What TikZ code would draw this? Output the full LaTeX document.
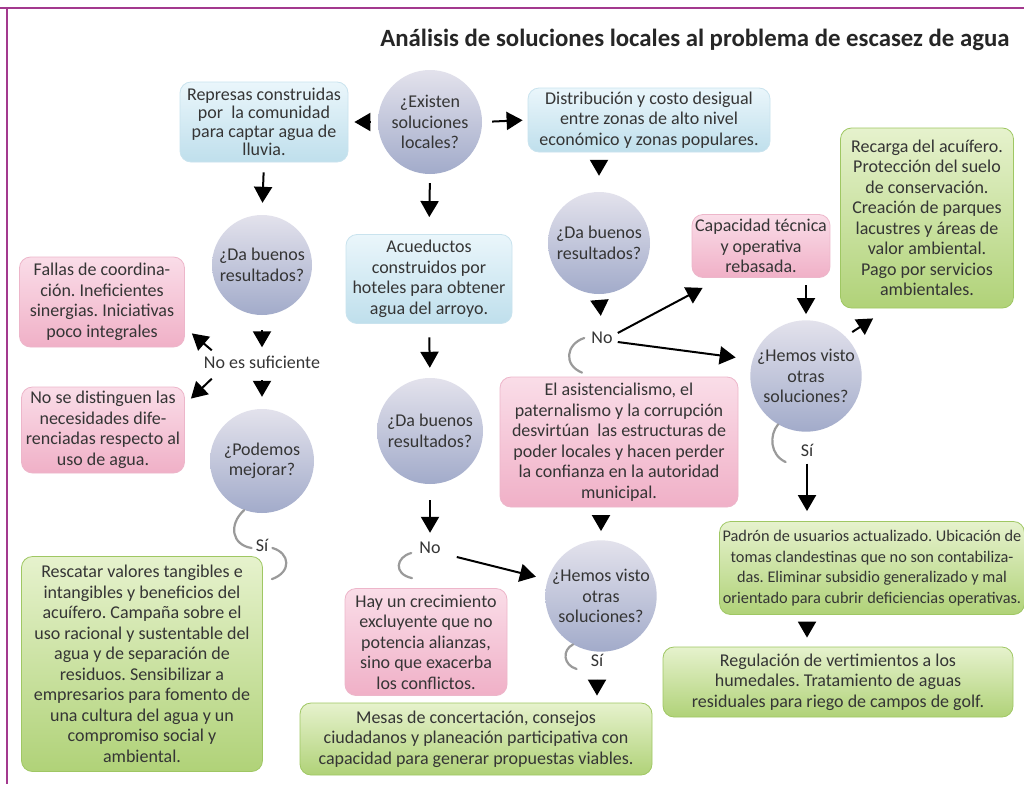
\documentclass[tikz,border=0pt]{standalone}
\usepackage{fontspec}
\setmainfont{Carlito}
\usetikzlibrary{arrows.meta,calc}
\frenchspacing

\definecolor{ink}{HTML}{353535}
\definecolor{frame}{HTML}{A3398E}
\definecolor{ballT}{HTML}{E3E2EC}
\definecolor{ballB}{HTML}{A2ABCA}
\definecolor{blueT}{HTML}{EAF6FB}
\definecolor{blueB}{HTML}{BFDFEC}
\definecolor{blueE}{HTML}{C9E3EE}
\definecolor{pinkT}{HTML}{FADDE8}
\definecolor{pinkB}{HTML}{F0B0C7}
\definecolor{pinkE}{HTML}{EDB6CA}
\definecolor{greenT}{HTML}{E6F2CD}
\definecolor{greenB}{HTML}{B0D278}
\definecolor{greenE}{HTML}{9FC763}
\definecolor{swooshC}{HTML}{9A9A9A}

\tikzset{
  txt/.style={text=ink, font=\fontsize{18}{20.5}\selectfont, align=center},
  ball/.style={txt, circle, inner sep=0pt, minimum size=#1,
    top color=ballT, bottom color=ballB},
  boxbase/.style={txt, rectangle, rounded corners=11pt, inner sep=3pt, line width=0.8pt},
  bluebox/.style={boxbase, top color=blueT, bottom color=blueB, draw=blueE},
  pinkbox/.style={boxbase, top color=pinkT, bottom color=pinkB, draw=pinkE},
  greenbox/.style={boxbase, top color=greenT, bottom color=greenB, draw=greenE},
  lbl/.style={txt, inner sep=2pt, text height=10pt, text depth=3pt},
  arr/.style={draw=black, line width=2pt, -{Triangle[length=16pt,width=18pt]}},
  swoosh/.style={draw=swooshC, line width=2.2pt, line cap=round},
}

\begin{document}
\begin{tikzpicture}[x=1pt,y=-1pt]
\useasboundingbox (0,0) rectangle (1024,784);
\fill[white] (0,0) rectangle (1024,784);

% frame lines along the top and the left side
\draw[frame, line width=2pt] (0,8) -- (1024,8);
\draw[frame, line width=2pt] (7,8) -- (7,784);

% title
\node[text=black!85, font=\fontsize{24.8}{28}\selectfont\bfseries, anchor=east] (title) at (1013,40)
  {Análisis de soluciones locales al problema de escasez de agua};

% top row
\node[ball=104pt] (exist) at (430,122) {¿Existen\\soluciones\\locales?};
\node[bluebox, minimum width=168pt, minimum height=80pt,
      font=\fontsize{18}{18.5}\selectfont] (represas) at (264,122)
  {Represas construidas\\por\ \ la comunidad\\para captar agua de\\lluvia.};
\node[bluebox, minimum width=242pt, minimum height=64pt] (distrib) at (649,120)
  {Distribución y costo desigual\\entre zonas de alto nivel\\económico y zonas populares.};

% left branch
\node[ball=100pt] (db1) at (262,265) {¿Da buenos\\resultados?};
\node[pinkbox, minimum width=165pt, minimum height=90pt] (fallas) at (102,302)
  {Fallas de coordina-\\ción. Ineficientes\\sinergias. Iniciativas\\poco integrales};
\node[lbl] (nosuf) at (262,365) {No es suficiente};
\node[pinkbox, minimum width=163pt, minimum height=86pt] (nodist) at (103,430)
  {No se distinguen las\\necesidades dife-\\renciadas respecto al\\uso de agua.};
\node[ball=104pt] (podemos) at (262,461) {¿Podemos\\mejorar?};
\node[lbl] (si1) at (262,548) {Sí};
\node[greenbox, minimum width=241pt, minimum height=215pt] (rescatar) at (142,664)
  {Rescatar valores tangibles e\\intangibles y beneficios del\\acuífero. Campaña sobre el\\uso racional y sustentable del\\agua y de separación de\\residuos. Sensibilizar a\\empresarios para fomento de\\una cultura del agua y un\\compromiso social y\\ambiental.};

% middle branch
\node[bluebox, minimum width=166pt, minimum height=89pt] (acued) at (429,279)
  {Acueductos\\construidos por\\hoteles para obtener\\agua del arroyo.};
\node[ball=106pt] (db2) at (430,431) {¿Da buenos\\resultados?};
\node[lbl] (no2) at (430,550) {No};
\node[pinkbox, minimum width=162pt, minimum height=107pt] (hay) at (426,642)
  {Hay un crecimiento\\excluyente que no\\potencia alianzas,\\sino que exacerba\\los conflictos.};
\node[ball=106pt] (hemos2) at (601,596) {¿Hemos visto\\otras\\soluciones?};
\node[lbl] (si3) at (597,663) {Sí};
\node[greenbox, minimum width=352pt, minimum height=72pt] (mesas) at (476,739)
  {Mesas de concertación, consejos\\ciudadanos y planeación participativa con\\capacidad para generar propuestas viables.};

% right branch
\node[ball=102pt] (db3) at (599,243) {¿Da buenos\\resultados?};
\node[lbl] (no1) at (602,340) {No};
\node[pinkbox, minimum width=138pt, minimum height=63pt] (capac) at (761,246)
  {Capacidad técnica\\y operativa\\rebasada.};
\node[greenbox, minimum width=173pt, minimum height=180pt] (recarga) at (927,218)
  {Recarga del acuífero.\\Protección del suelo\\de conservación.\\Creación de parques\\lacustres y áreas de\\valor ambiental.\\Pago por servicios\\ambientales.};
\node[pinkbox, minimum width=238pt, minimum height=130pt] (asist) at (619,442)
  {El asistencialismo, el\\paternalismo y la corrupción\\desvirtúan\ \ las estructuras de\\poder locales y hacen perder\\la confianza en la autoridad\\municipal.};
\node[ball=106pt] (hemos1) at (806,376) {¿Hemos visto\\otras\\soluciones?};
\node[lbl] (si2) at (807,453) {Sí};
\node[greenbox, minimum width=289pt, minimum height=93pt,
      font=\fontsize{16.3}{20.5}\selectfont] (padron) at (872,568)
  {Padrón de usuarios actualizado. Ubicación de\\tomas clandestinas que no son contabiliza-\\das. Eliminar subsidio generalizado y mal\\orientado para cubrir deficiencias operativas.};
\node[greenbox, minimum width=350pt, minimum height=70pt] (regul) at (838,682)
  {Regulación de vertimientos a los\\humedales. Tratamiento de aguas\\residuales para riego de campos de golf.};

% connectors: top row
\draw[arr, shorten <=8pt, shorten >=6pt] (exist.west) -- (represas.east);
\draw[arr, shorten <=10pt, shorten >=5pt] (exist.east) -- (distrib.west);
\draw[arr, shorten <=10pt, shorten >=12pt] (represas.south) -- (db1.north);
\draw[arr, shorten <=9pt, shorten >=17pt] (exist.south) -- (acued.north);
\draw[arr, shorten <=8pt, shorten >=16pt] (distrib.south -| db3.north) -- (db3.north);

% connectors: left branch
\draw[arr, shorten <=15pt, shorten >=9pt] (db1.south) -- (nosuf.north);
\draw[arr, shorten <=6.5pt, shorten >=12pt] (nosuf.south) -- (podemos.north);
\draw[arr] ([shift={(10,-6)}]nosuf.north west) -- ([shift={(7,-14)}]fallas.south east);
\draw[arr] ([shift={(10,5)}]nosuf.south west) -- ([shift={(6,12)}]nodist.north east);
\draw[swoosh] (podemos.250) .. controls (228,525) and (232,545) .. ([xshift=-2pt]si1.west);
\draw[swoosh] ([xshift=2pt]si1.east) .. controls (290,553) and (292,572) .. ([shift={(9,23)}]rescatar.north east);

% connectors: middle branch
\draw[arr, shorten <=13.5pt, shorten >=10pt] (acued.south) -- (db2.north);
\draw[arr, shorten <=16pt, shorten >=8.5pt] (db2.south) -- (no2.north);
\draw[arr, shorten >=12pt] ([shift={(14,7)}]no2.east) -- (hemos2.163);
\draw[swoosh] ([shift={(-6,3)}]no2.west) .. controls (396,557) and (393,574) .. ([shift={(-14,-10)}]hay.north);
\draw[swoosh] (hemos2.240) .. controls (562,650) and (563,665) .. ([shift={(-12,6)}]si3.west);
\draw[arr, shorten <=8pt, shorten >=7pt] (si3.south) -- (si3.south |- mesas.north);

% connectors: right branch
\draw[arr, shorten <=6pt, shorten >=15.5pt] (db3.south) -- (no1.north);
\draw[arr] ([shift={(3,-7)}]no1.east) -- ([shift={(11,10)}]capac.south west);
\draw[arr, shorten >=17pt] ([shift={(3,2)}]no1.east) -- (hemos1.163);
\draw[swoosh] ([shift={(-5,-2)}]no1.west) .. controls (566,344) and (563,365) .. ([shift={(-37,-4)}]asist.north);
\draw[arr, shorten <=7.5pt, shorten >=6pt] (capac.south -| hemos1.north) -- (hemos1.north);
\draw[arr, shorten <=8pt] (hemos1.45) -- ([shift={(33,10)}]recarga.south west);
\draw[arr, shorten <=11pt, shorten >=9pt] (asist.south -| hemos2.north) -- (hemos2.north);
\draw[swoosh] (hemos1.240) .. controls (769,435) and (770,455) .. ([shift={(-13,9)}]si2.west);
\draw[arr, shorten <=2pt, shorten >=10pt] (si2.south) -- (si2.south |- padron.north);
\draw[arr, shorten <=7pt, shorten >=9pt] (si2.south |- padron.south) -- (si2.south |- regul.north);

\end{tikzpicture}
\end{document}
